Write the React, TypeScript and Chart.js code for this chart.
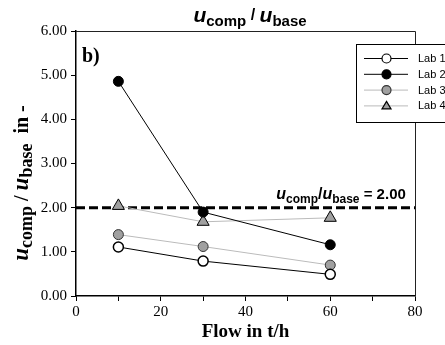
import React, { useEffect, useRef } from "react";
import { Chart, registerables } from "chart.js";

Chart.register(...registerables);

const flow = [10, 30, 60];
const lab1 = [1.11, 0.79, 0.49];
const lab2 = [4.86, 1.9, 1.16];
const lab3 = [1.39, 1.12, 0.7];
const lab4 = [2.04, 1.68, 1.77];
const thresholdX = [0, 80];
const thresholdY = [2.0, 2.0];
const labNames = ["Lab 1", "Lab 2", "Lab 3", "Lab 4"];

type Seg = { t: string; f: string; dy?: number };

function drawRich(ctx: CanvasRenderingContext2D, segs: Seg[], cx: number, y: number) {
  let w = 0;
  for (const s of segs) {
    ctx.font = s.f;
    w += ctx.measureText(s.t).width;
  }
  let x = cx - w / 2;
  ctx.textAlign = "left";
  ctx.textBaseline = "alphabetic";
  for (const s of segs) {
    ctx.font = s.f;
    ctx.fillText(s.t, x, y + (s.dy || 0));
    x += ctx.measureText(s.t).width;
  }
}

const decorPlugin = {
  id: "decor",
  afterDatasetsDraw(chart: any) {
    const ctx: CanvasRenderingContext2D = chart.ctx;
    const a = chart.chartArea;
    ctx.save();
    // frame top/right
    ctx.strokeStyle = "#222";
    ctx.lineWidth = 1;
    ctx.beginPath();
    ctx.moveTo(a.left, a.top + 0.5);
    ctx.lineTo(a.right + 0.5, a.top + 0.5);
    ctx.lineTo(a.right + 0.5, a.bottom);
    ctx.stroke();
    ctx.fillStyle = "#000";
    const SA = "'Liberation Sans', Arial, sans-serif";
    const SE = "'Liberation Serif', 'Times New Roman', serif";
    // title
    drawRich(
      ctx,
      [
        { t: "u", f: `italic bold 21px ${SA}` },
        { t: "comp", f: `bold 15px ${SA}`, dy: 4 },
        { t: " / ", f: `bold 16px ${SA}`, dy: -2 },
        { t: "u", f: `italic bold 21px ${SA}` },
        { t: "base", f: `bold 15px ${SA}`, dy: 4 },
      ],
      250,
      22
    );
    // annotation
    drawRich(
      ctx,
      [
        { t: "u", f: `italic bold 16px ${SA}` },
        { t: "comp", f: `bold 12px ${SA}`, dy: 4 },
        { t: "/", f: `bold 16px ${SA}` },
        { t: "u", f: `italic bold 16px ${SA}` },
        { t: "base", f: `bold 12px ${SA}`, dy: 4 },
        { t: " = 2.00", f: `bold 15px ${SA}` },
      ],
      341,
      199
    );
    // b)
    ctx.font = `bold 20px ${SE}`;
    ctx.textAlign = "left";
    ctx.fillText("b)", 82, 62);
    // x title
    ctx.font = `bold 19px ${SE}`;
    ctx.textAlign = "center";
    ctx.fillText("Flow in t/h", (a.left + a.right) / 2, 337);
    // y title
    ctx.save();
    ctx.translate(28, 183);
    ctx.rotate(-Math.PI / 2);
    drawRich(
      ctx,
      [
        { t: "u", f: `italic bold 23px ${SE}` },
        { t: "comp", f: `bold 18px ${SE}`, dy: 4 },
        { t: " / ", f: `bold 20px ${SE}` },
        { t: "u", f: `italic bold 23px ${SE}` },
        { t: "base", f: `bold 18px ${SE}`, dy: 4 },
        { t: "  in -", f: `bold 20px ${SE}` },
      ],
      0,
      0
    );
    ctx.restore();

    // legend
    const bx = 356.5, by = 44.5, bw = 120, bh = 78;
    ctx.fillStyle = "#fff";
    ctx.fillRect(bx, by, bw, bh);
    ctx.strokeStyle = "#000";
    ctx.lineWidth = 1;
    ctx.strokeRect(bx, by, bw, bh);
    const ds = chart.data.datasets;
    for (let i = 0; i < 4; i++) {
      const d = ds[i];
      const yy = 58.5 + i * 15.8;
      ctx.strokeStyle = d.borderColor;
      ctx.lineWidth = 1;
      ctx.beginPath();
      ctx.moveTo(364, yy);
      ctx.lineTo(408, yy);
      ctx.stroke();
      ctx.fillStyle = d.pointBackgroundColor;
      ctx.strokeStyle = d.pointBorderColor;
      ctx.lineWidth = 1.2;
      ctx.beginPath();
      if (d.pointStyle === "triangle") {
        ctx.moveTo(386.5, yy - 4.5);
        ctx.lineTo(391, yy + 3);
        ctx.lineTo(382, yy + 3);
        ctx.closePath();
      } else {
        ctx.arc(386.5, yy, 4.5, 0, Math.PI * 2);
      }
      ctx.fill();
      ctx.stroke();
      ctx.fillStyle = "#000";
      ctx.font = `11px ${SA}`;
      ctx.textAlign = "left";
      ctx.textBaseline = "middle";
      ctx.fillText(labNames[i], 418, yy + 0.5);
    }
    ctx.restore();
  },
};

export default function App() {
  const ref = useRef<HTMLCanvasElement>(null);
  useEffect(() => {
    document.body.style.margin = "0";
    const toPts = (ys: number[]) => flow.map((x, i) => ({ x, y: ys[i] }));
    const chart = new Chart(ref.current!, {
      type: "scatter",
      data: {
        datasets: [
          {
            label: labNames[0],
            data: toPts(lab1),
            showLine: true,
            borderColor: "#000",
            borderWidth: 1,
            pointBackgroundColor: "#fff",
            pointBorderColor: "#000",
            pointBorderWidth: 1.5,
            pointRadius: 5,
            pointStyle: "circle",
            order: 1,
          },
          {
            label: labNames[1],
            data: toPts(lab2),
            showLine: true,
            borderColor: "#000",
            borderWidth: 1,
            pointBackgroundColor: "#000",
            pointBorderColor: "#000",
            pointBorderWidth: 1,
            pointRadius: 5,
            pointStyle: "circle",
            order: 1,
          },
          {
            label: labNames[2],
            data: toPts(lab3),
            showLine: true,
            borderColor: "#bbb",
            borderWidth: 1,
            pointBackgroundColor: "#a0a0a0",
            pointBorderColor: "#333",
            pointBorderWidth: 1,
            pointRadius: 5,
            pointStyle: "circle",
            order: 2,
          },
          {
            label: labNames[3],
            data: toPts(lab4),
            showLine: true,
            borderColor: "#bbb",
            borderWidth: 1,
            pointBackgroundColor: "#a0a0a0",
            pointBorderColor: "#000",
            pointBorderWidth: 1,
            pointRadius: 7,
            pointStyle: "triangle",
            order: 2,
          },
          {
            label: "threshold",
            data: thresholdX.map((x, i) => ({ x, y: thresholdY[i] })),
            showLine: true,
            borderColor: "#000",
            borderWidth: 3,
            borderDash: [9, 4],
            pointRadius: 0,
            order: 10,
          },
        ],
      },
      options: {
        animation: false,
        responsive: false,
        devicePixelRatio: 1,
        layout: { padding: { left: 0, top: 31, right: 30, bottom: 0 } },
        plugins: { legend: { display: false }, tooltip: { enabled: false }, title: { display: false } },
        scales: {
          x: {
            type: "linear",
            min: 0,
            max: 80,
            afterFit: (s: any) => {
              s.height = 49;
            },
            ticks: {
              stepSize: 10,
              color: "#000",
              padding: 2,
              maxRotation: 0,
              autoSkip: false,
              font: { family: "'Liberation Serif', 'Times New Roman', serif", size: 15 },
              callback: (v: any) => (Number(v) % 20 === 0 ? String(v) : ""),
            },
            grid: { drawOnChartArea: false, tickLength: 5, color: "#000", tickWidth: 1 },
            border: { color: "#000", width: 1.5 },
          },
          y: {
            type: "linear",
            min: 0,
            max: 6,
            afterFit: (s: any) => {
              s.width = 76;
            },
            ticks: {
              stepSize: 1,
              color: "#000",
              padding: 4,
              font: { family: "'Liberation Serif', 'Times New Roman', serif", size: 15 },
              callback: (v: any) => Number(v).toFixed(2),
            },
            grid: { drawOnChartArea: false, tickLength: 5, color: "#000", tickWidth: 1 },
            border: { color: "#000", width: 1.5 },
          },
        },
      },
      plugins: [decorPlugin],
    });
    return () => chart.destroy();
  }, []);
  return (
    <div style={{ width: 445, height: 345 }}>
      <canvas ref={ref} width={445} height={345} />
    </div>
  );
}
